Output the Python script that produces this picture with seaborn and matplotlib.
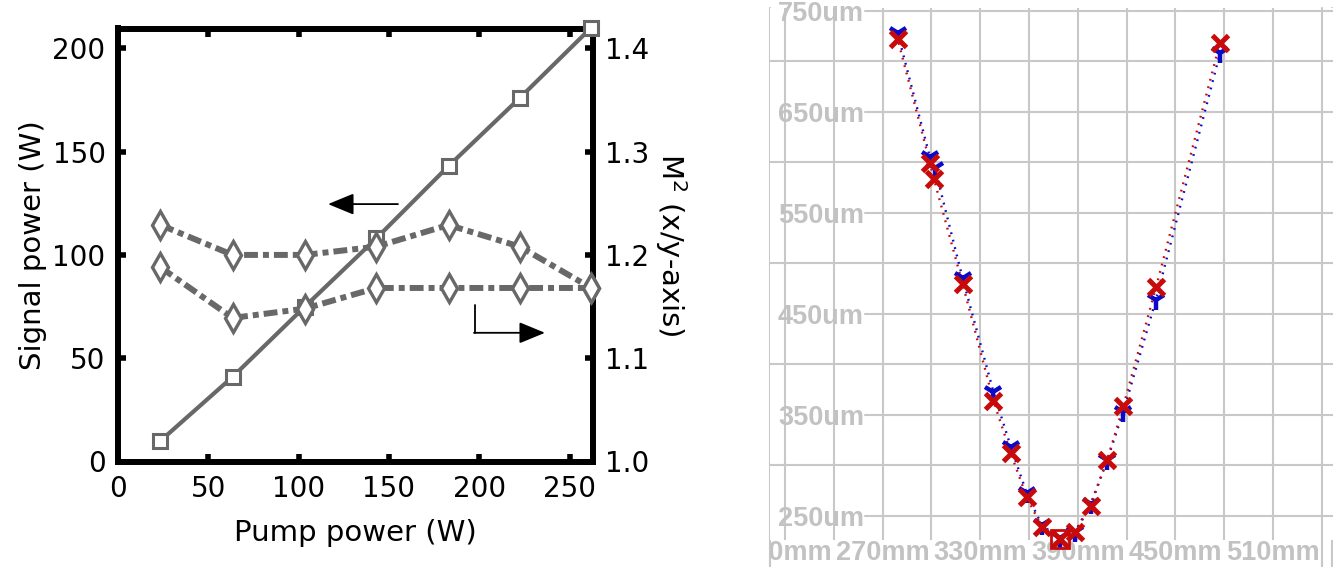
import matplotlib
matplotlib.use("Agg")
import matplotlib.pyplot as plt
import seaborn as sns
import pandas as pd
from matplotlib.lines import Line2D
from matplotlib.transforms import Bbox, TransformedBbox

# ---------------- data: left panel ----------------
pump_power = [23.5, 63.5, 103.5, 143, 183, 222.5, 262]
signal_power = [10, 41, 75, 108, 143, 176, 210]
m2_upper = [1.229, 1.200, 1.200, 1.208, 1.229, 1.208, 1.168]
m2_lower = [1.188, 1.139, 1.148, 1.168, 1.168, 1.168, 1.168]
x_ticks_left = [0, 50, 100, 150, 200, 250]
y_ticks_left = [0, 50, 100, 150, 200]
y_ticks_right = [1.0, 1.1, 1.2, 1.3, 1.4]
y_ticklabels_right = ["1.0", "1.1", "1.2", "1.3", "1.4"]

# ---------------- data: right panel ----------------
pos_red = [279.3, 299.1, 301.6, 319.2, 338.1, 348.8, 358.6, 367.8, 378.8, 388.3, 397.9, 408.1, 418.0, 438.1, 477.4]
width_red = [721.7, 599.5, 583.1, 479.4, 363.9, 311.8, 268.2, 239.1, 227.2, 233.6, 259.9, 305.2, 358.6, 476.1, 718.3]
pos_blue = [279.3, 299.1, 302.2, 319.2, 338.1, 348.8, 358.6, 367.8, 378.8, 388.3, 397.9, 408.1, 418.0, 438.1, 477.4]
width_blue = [727.6, 604.9, 594.0, 485.0, 372.8, 318.3, 272.2, 240.8, 227.6, 234.2, 261.6, 305.2, 353.0, 464.0, 707.8]
waist_pos = [378.8]
waist_width = [227.2]
x_grid_mm = [210, 240, 270, 300, 330, 360, 390, 420, 450, 480, 510, 540]
x_labels_mm = ["210mm", "", "270mm", "", "330mm", "", "390mm", "", "450mm", "", "510mm", ""]
y_labeled_um = [250, 350, 450, 550, 650, 750]
y_labels_um = ["250um", "350um", "450um", "550um", "650um", "750um"]
y_unlabeled_um = [300, 400, 500, 600, 700]

sns.set_theme(style="white")
plt.rcParams["font.family"] = ["DejaVu Sans"]
plt.rcParams["lines.scale_dashes"] = False
plt.rcParams["text.color"] = "black"
plt.rcParams["axes.labelcolor"] = "black"
plt.rcParams["xtick.color"] = "black"
plt.rcParams["ytick.color"] = "black"

W, H = 1333, 567
fig = plt.figure(figsize=(W / 100, H / 100), dpi=100)
fig.patch.set_facecolor("white")

# ================= LEFT PANEL =================
L, R, T, B = 118, 593, 28.5, 461.5
ax = fig.add_axes([L / W, (H - B) / H, (R - L) / W, (B - T) / H])
ax2 = ax.twinx()
gray = "#686868"
dashdot = (0, (10, 3.6, 4.3, 3.6))

df_sig = pd.DataFrame({"pump": pump_power, "signal": signal_power})
sns.lineplot(data=df_sig, x="pump", y="signal", ax=ax, color=gray, lw=3,
             marker="s", markersize=10, markerfacecolor="white",
             markeredgecolor=gray, markeredgewidth=2.2, estimator=None,
             clip_on=False, zorder=3)

df_m2 = pd.DataFrame({"pump": pump_power, "up": m2_upper, "lo": m2_lower})
for col in ["up", "lo"]:
    sns.lineplot(data=df_m2, x="pump", y=col, ax=ax2, color=gray, lw=4.3,
                 linestyle=dashdot, marker="d", markersize=14,
                 markerfacecolor="white", markeredgecolor=gray,
                 markeredgewidth=2.4, estimator=None, clip_on=False, zorder=3)

ax.set_xlim(0, 263)
ax.set_ylim(0, 209.6)
ax2.set_ylim(1.0, 1.0 + 209.6 * 0.002)
ax.set_xticks(x_ticks_left)
ax.set_yticks(y_ticks_left)
ax2.set_yticks(y_ticks_right)
ax2.set_yticklabels(y_ticklabels_right)

for s in ax.spines.values():
    s.set_visible(True)
    s.set_color("black")
    s.set_linewidth(4.3)
for s in ax2.spines.values():
    s.set_visible(False)

ax.tick_params(axis="x", which="major", direction="in", top=True, bottom=True,
               length=6, width=4, color="black", labelcolor="black",
               labelsize=20, pad=10)
ax.tick_params(axis="y", which="major", direction="in", left=True, right=False,
               length=6, width=4, color="black", labelcolor="black",
               labelsize=20, pad=9)
ax2.tick_params(axis="y", which="major", direction="in", right=True,
                length=6, width=4, color="black", labelcolor="black",
                labelsize=20, pad=9)

ax.set_xlabel("Pump power (W)", fontsize=21, labelpad=11, color="black")
ax.set_ylabel("Signal power (W)", fontsize=21, labelpad=4, color="black")
ax2.set_ylabel("M$^2$ (x/y-axis)", fontsize=21, rotation=270, labelpad=28,
               color="black")

# arrows indicating axes
ax.annotate("", xy=(116.3, 124.6), xytext=(155, 124.6),
            arrowprops=dict(arrowstyle="-|>,head_length=0.8,head_width=0.33",
                            lw=1.3, color="black", mutation_scale=20,
                            shrinkA=0, shrinkB=0))
ax.plot([197.7, 197.7], [75.8, 62.3], color="black", lw=1.3, zorder=4)
ax.annotate("", xy=(236.4, 62.3), xytext=(197.1, 62.3),
            arrowprops=dict(arrowstyle="-|>,head_length=0.8,head_width=0.33",
                            lw=1.3, color="black", mutation_scale=20,
                            shrinkA=0, shrinkB=0))

# ================= RIGHT PANEL =================
RL, RR, RT, RB = 770, 1333, 8, 540
axr = fig.add_axes([RL / W, (H - RB) / H, (RR - RL) / W, (RB - RT) / H])
gcol = "#c8c8c8"
tcol = "#c2c2c2"
axr.set_xlim(210 + (RL - 785) / 48.8 * 30, 210 + (RR - 785) / 48.8 * 30)
axr.set_ylim(250 - (RB - 515.7) / 50.5 * 50, 250 + (515.7 - RT) / 50.5 * 50)
for s in axr.spines.values():
    s.set_visible(False)

axr.set_xticks(x_grid_mm)
axr.set_xticklabels(x_labels_mm)
axr.xaxis.grid(True, color=gcol, lw=1.5)
axr.yaxis.grid(False)
axr.set_yticks(y_labeled_um)
axr.set_yticklabels(y_labels_um)
lab_start = (865 - RL) / (RR - RL)
for v in y_labeled_um:
    axr.axhline(v, xmin=lab_start, xmax=1, color=gcol, lw=1.5, zorder=0.5)
for v in y_unlabeled_um:
    axr.axhline(v, color=gcol, lw=1.5, zorder=0.5)

axr.tick_params(axis="x", length=0, pad=0, labelsize=19.5, labelcolor=tcol)
axr.tick_params(axis="y", length=0, pad=-5.8, labelsize=19.5, labelcolor=tcol)
for lbl in axr.get_yticklabels():
    lbl.set_horizontalalignment("left")
    lbl.set_fontfamily("Liberation Sans")
    lbl.set_fontweight("bold")
clipbox = TransformedBbox(Bbox.from_extents(RL / W, 0, 1, 1), fig.transFigure)
for t in axr.xaxis.get_major_ticks():
    t.label1.set_fontfamily("Liberation Sans")
    t.label1.set_fontweight("bold")
    t.label1.set_clip_box(clipbox)
    t.label1.set_clip_on(True)

blue = "#0a0ac8"
red = "#c80a0a"
df_b = pd.DataFrame({"z": pos_blue, "w": width_blue})
df_r = pd.DataFrame({"z": pos_red, "w": width_red})
sns.lineplot(data=df_b, x="z", y="w", ax=axr, color=blue, lw=1.7,
             linestyle=(0, (1.3, 4.2)), estimator=None, zorder=2)
sns.lineplot(data=df_r, x="z", y="w", ax=axr, color=red, lw=1.7,
             linestyle=(2.7, (1.3, 4.2)), estimator=None, zorder=2)
sns.lineplot(data=df_b, x="z", y="w", ax=axr, color=blue, linestyle="",
             marker="1", markersize=15, markeredgewidth=3.2, markeredgecolor=blue,
             estimator=None, zorder=3, clip_on=False)
sns.lineplot(data=df_r, x="z", y="w", ax=axr, color=red, linestyle="",
             marker="x", markersize=11, markeredgewidth=3.6, markeredgecolor=red,
             estimator=None, zorder=4, clip_on=False)
df_waist = pd.DataFrame({"z": waist_pos, "w": waist_width})
sns.lineplot(data=df_waist, x="z", y="w", ax=axr, linestyle="", marker="s",
             markersize=12.5, markerfacecolor="none", markeredgecolor=red,
             markeredgewidth=2.0, estimator=None, zorder=4, clip_on=False)
axr.set_xlabel("")
axr.set_ylabel("")

# panel frame lines
for px in [770.5, 1321.8, 1331.5]:
    fig.add_artist(Line2D([px / W, px / W], [0, (H - RT) / H],
                          transform=fig.transFigure, color=gcol, lw=1.5, zorder=0))

fig.savefig("out.png", dpi=100, facecolor="white")
